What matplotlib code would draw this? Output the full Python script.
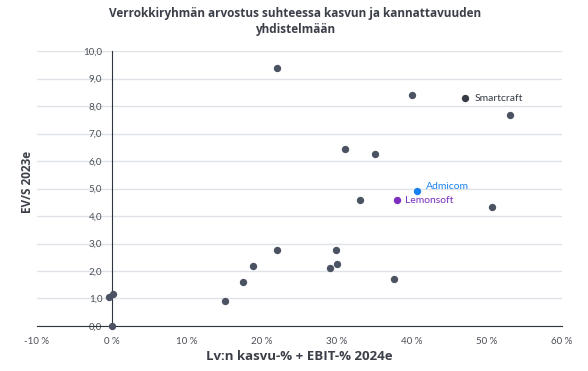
import numpy as np
import matplotlib
matplotlib.use('Agg')
import matplotlib.pyplot as plt
from matplotlib.ticker import FuncFormatter

# peer group points: growth-% + EBIT-% 2024e (x, %) vs EV/S 2023e (y)
peer_x = [0.0, -0.4, 0.1, 15.1, 17.5, 18.8, 22.0, 22.0, 29.1, 29.9, 30.0,
          31.1, 33.1, 35.0, 37.6, 40.0, 50.7, 53.0]
peer_y = [0.0, 1.05, 1.18, 0.91, 1.6, 2.18, 9.38, 2.76, 2.1, 2.76, 2.25,
          6.44, 4.58, 6.25, 1.71, 8.4, 4.33, 7.67]

named = ['Smartcraft', 'Admicom', 'Lemonsoft']
named_x = [47.1, 40.7, 38.0]
named_y = [8.29, 4.91, 4.58]
named_col = ['#363b45', '#1a82f0', '#7a2fc0']

x_ticks = [-10, 0, 10, 20, 30, 40, 50, 60]
y_ticks = [0, 1, 2, 3, 4, 5, 6, 7, 8, 9, 10]

TXT = '#3b3f48'
plt.rcParams['font.family'] = ['Lato', 'DejaVu Sans']
HEAD = ['Open Sans', 'DejaVu Sans']

fig = plt.figure(figsize=(5.88, 3.71), dpi=100)
ax = fig.add_axes([0.0629, 0.1213, 0.8929, 0.7412])

ax.scatter(peer_x, peer_y, s=28, color='#4b5363', zorder=3, clip_on=False, linewidths=0)
for nm, x, y, c in zip(named, named_x, named_y, named_col):
    ax.scatter([x], [y], s=28, color=c, zorder=3, clip_on=False, linewidths=0)
ax.annotate(named[0], (named_x[0], named_y[0]), xytext=(7, 0), textcoords='offset points',
            va='center', ha='left', fontsize=7.5, color=named_col[0])
ax.annotate(named[1], (named_x[1], named_y[1]), xytext=(6, 3), textcoords='offset points',
            va='center', ha='left', fontsize=7.5, color=named_col[1])
ax.annotate(named[2], (named_x[2], named_y[2]), xytext=(6, 0), textcoords='offset points',
            va='center', ha='left', fontsize=7.5, color=named_col[2])

ax.set_xlim(-10, 60)
ax.set_ylim(0, 10)
ax.set_xticks(x_ticks)
ax.set_yticks(y_ticks)
ax.xaxis.set_major_formatter(FuncFormatter(lambda v, p: f'{v:.0f} %'))
ax.yaxis.set_major_formatter(FuncFormatter(lambda v, p: f'{v:.1f}'.replace('.', ',')))
ax.tick_params(length=0, labelsize=7, labelcolor='#4a4d55')
ax.tick_params(axis='x', pad=8)
ax.tick_params(axis='y', pad=7)
for lab in ax.get_yticklabels():
    lab.set_bbox(dict(facecolor='white', edgecolor='none', pad=0.5))

ax.grid(axis='y', color='#dfe3e7', linewidth=1)
ax.set_axisbelow(True)
for s in ['top', 'right']:
    ax.spines[s].set_visible(False)
ax.spines['left'].set_position(('data', 0))
ax.spines['left'].set_color('#2f3540')
ax.spines['bottom'].set_color('#2f3540')
ax.spines['left'].set_zorder(2)

ax.set_xlabel('Lv:n kasvu-% + EBIT-% 2024e', fontsize=9.5, fontweight='bold', color=TXT,
              labelpad=3, family=HEAD)
fig.text(0.046, 0.51, 'EV/S 2023e', rotation=90, fontsize=8.5, fontweight='bold',
         color=TXT, ha='center', va='center', family=HEAD)
fig.text(0.502, 0.98, 'Verrokkiryhmän arvostus suhteessa kasvun ja kannattavuuden\nyhdistelmään',
         ha='center', va='top', fontsize=8.5, fontweight='bold', color=TXT, linespacing=1.3,
         family=HEAD)

fig.savefig('out.png', dpi=100)
